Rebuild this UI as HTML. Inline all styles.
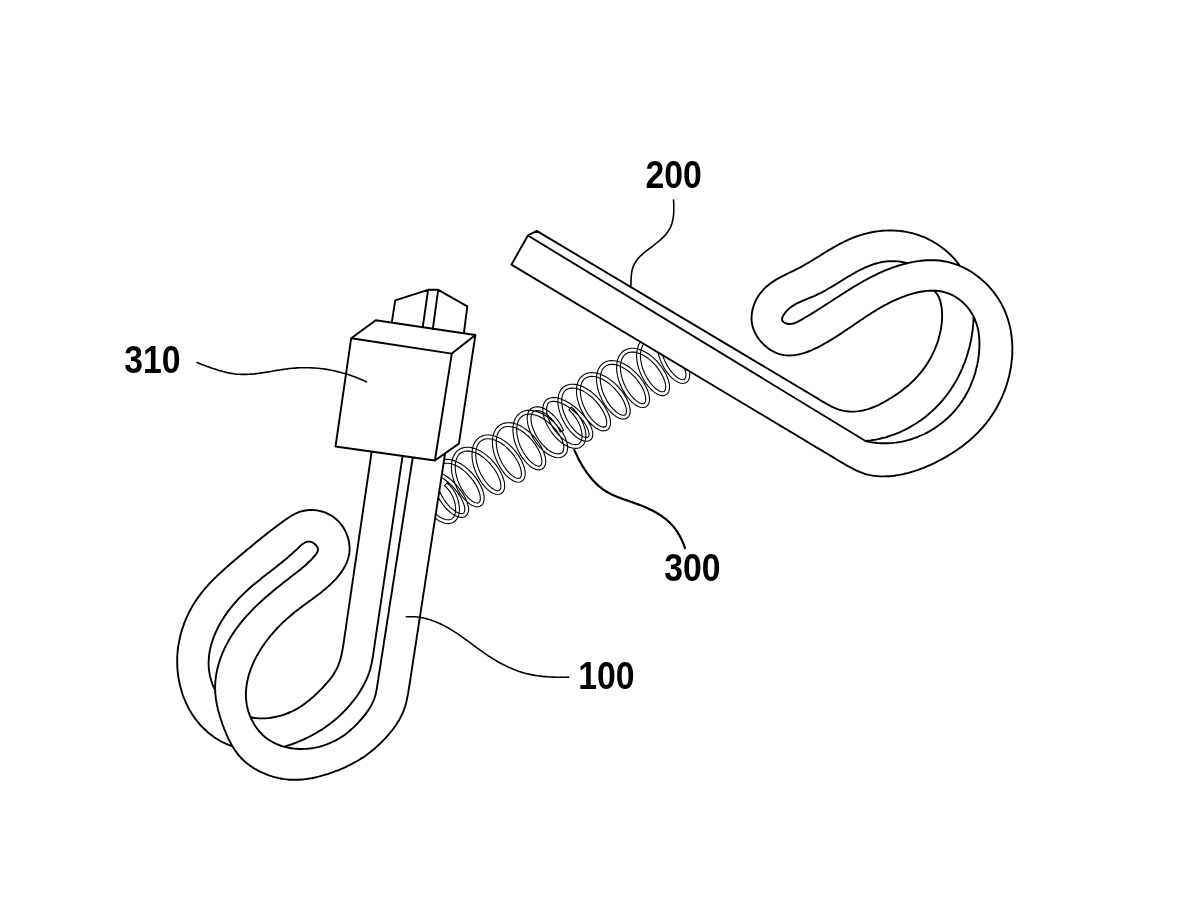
<!DOCTYPE html>
<html><head><meta charset="utf-8"><title>Figure</title><style>html,body{margin:0;padding:0;background:#fff;overflow:hidden;width:1184px;height:913px}svg{display:block}text{font-family:"Liberation Sans",sans-serif}</style></head><body><svg width="1184" height="913" viewBox="0 0 1184 913">
<rect width="1184" height="913" fill="#fff"/>
<g fill="none" stroke="#000" stroke-width="1.1" stroke-linejoin="round" stroke-linecap="round">
<path d="M444.5 485.6L446.6 487.6L448.4 489.7L450.1 491.9L451.5 494.2L452.7 496.6L453.7 499.1L454.5 501.5L455.1 503.9L455.4 506.3L455.6 508.5L455.6 510.5L455.4 512.4L455.0 514.1L454.5 515.6L453.8 516.8L453.0 517.8L452.0 518.6L451.0 519.2L449.9 519.6L448.6 519.8L447.2 519.7L445.6 519.5L443.9 518.9L442.2 518.2L440.3 517.2L438.4 515.9L436.6 514.4L434.7 512.7L432.9 510.9L431.1 508.8L429.4 506.6L427.9 504.3L426.4 501.9L425.1 499.5L424.0 497.0L423.0 494.5L422.2 492.0L421.6 489.6L421.3 487.2L421.1 485.0L421.1 482.9L421.3 481.0L421.6 479.3L422.2 477.8L422.9 476.6L423.7 475.5L424.6 474.7L425.7 474.1L426.9 473.7L428.3 473.4L429.8 473.4L431.6 473.6L433.5 474.0L435.5 474.6L437.7 475.5L439.8 476.6L442.1 477.9L444.3 479.3L446.5 481.0L448.7 482.8L450.8 484.7L452.8 486.8L454.7 488.9L456.5 491.1L458.2 493.4L459.6 495.6L461.0 497.8L462.1 500.0L463.0 502.1L463.8 504.1L464.3 506.0L464.7 507.7L464.8 509.2L464.7 510.5L464.5 511.6L464.1 512.3L463.6 512.9L463.1 513.2L462.4 513.5L461.4 513.6L460.2 513.4L458.8 513.1L457.2 512.4L455.6 511.5L453.9 510.3L452.1 508.9L450.3 507.3L448.5 505.4L446.8 503.4L445.1 501.2L443.6 498.8L442.1 496.4L440.8 493.8L439.6 491.2L438.6 488.6L437.7 486.0L437.0 483.4L436.6 480.8L436.3 478.4L436.2 476.1L436.4 473.9L436.7 471.9L437.2 470.1L437.9 468.5L438.7 467.1L439.7 466.0L440.8 465.0L442.1 464.2L443.5 463.7L445.0 463.3L446.7 463.2L448.6 463.3L450.5 463.6L452.6 464.2L454.7 465.0L456.9 466.0L459.1 467.3L461.3 468.7L463.5 470.4L465.6 472.2L467.6 474.2L469.6 476.3L471.4 478.4L473.1 480.7L474.7 482.9L476.1 485.2L477.3 487.5L478.3 489.7L479.1 491.8L479.7 493.9L480.1 495.7L480.3 497.4L480.3 498.9L480.2 500.2L479.9 501.2L479.5 501.9L479.1 502.4L478.6 502.7L478.0 502.9L477.1 503.0L476.1 502.8L474.9 502.5L473.6 501.9L472.1 501.0L470.6 499.9L469.0 498.5L467.5 496.9L465.9 495.0L464.3 493.0L462.9 490.8L461.5 488.5L460.2 486.0L459.0 483.5L457.9 480.9L457.0 478.2L456.3 475.5L455.8 472.9L455.4 470.2L455.2 467.7L455.3 465.3L455.5 463.0L455.9 460.9L456.5 458.9L457.2 457.2L458.2 455.7L459.2 454.3L460.5 453.3L461.8 452.4L463.3 451.7L465.0 451.3L466.7 451.1L468.6 451.1L470.6 451.4L472.7 451.9L474.9 452.6L477.1 453.6L479.4 454.8L481.6 456.2L483.8 457.8L485.9 459.6L488.0 461.6L490.0 463.6L491.8 465.8L493.5 468.0L495.1 470.3L496.5 472.6L497.7 474.8L498.7 477.1L499.6 479.2L500.2 481.3L500.6 483.2L500.8 484.9L500.9 486.4L500.7 487.7L500.5 488.7L500.1 489.5L499.6 490.0L499.2 490.4L498.5 490.6L497.8 490.7L496.8 490.6L495.6 490.2L494.3 489.6L492.9 488.8L491.3 487.7L489.8 486.3L488.2 484.8L486.6 483.0L485.1 481.0L483.6 478.8L482.2 476.5L480.8 474.0L479.6 471.5L478.6 468.9L477.7 466.2L476.9 463.5L476.3 460.9L476.0 458.3L475.8 455.7L475.8 453.3L475.9 451.0L476.3 448.8L476.9 446.9L477.6 445.1L478.5 443.5L479.6 442.2L480.8 441.1L482.1 440.2L483.6 439.5L485.2 439.0L487.0 438.8L488.9 438.8L490.9 439.0L493.0 439.5L495.1 440.2L497.3 441.2L499.6 442.3L501.8 443.7L504.0 445.3L506.2 447.1L508.2 449.0L510.2 451.1L512.1 453.2L513.8 455.4L515.4 457.7L516.8 460.0L518.1 462.3L519.1 464.5L520.0 466.6L520.6 468.7L521.1 470.6L521.3 472.4L521.4 473.9L521.3 475.3L521.0 476.3L520.6 477.1L520.2 477.7L519.7 478.0L519.1 478.3L518.4 478.4L517.4 478.3L516.3 478.0L515.0 477.4L513.5 476.6L512.0 475.6L510.5 474.2L508.9 472.7L507.3 470.9L505.8 468.9L504.3 466.8L502.8 464.5L501.5 462.1L500.3 459.5L499.2 456.9L498.3 454.3L497.5 451.6L496.9 448.9L496.5 446.3L496.3 443.7L496.2 441.3L496.4 439.0L496.8 436.8L497.3 434.8L498.0 433.0L498.9 431.4L500.0 430.1L501.1 428.9L502.5 428.0L503.9 427.3L505.5 426.8L507.3 426.5L509.1 426.5L511.1 426.7L513.2 427.1L515.3 427.8L517.6 428.7L519.8 429.9L522.0 431.2L524.2 432.8L526.4 434.6L528.5 436.5L530.5 438.5L532.3 440.6L534.1 442.8L535.7 445.1L537.1 447.4L538.4 449.7L539.5 451.9L540.4 454.1L541.0 456.1L541.5 458.1L541.8 459.9L541.9 461.4L541.8 462.8L541.5 463.9L541.2 464.7L540.8 465.3L540.3 465.7L539.7 466.0L539.0 466.1L538.0 466.0L536.9 465.7L535.6 465.2L534.2 464.4L532.7 463.4L531.2 462.1L529.6 460.6L528.0 458.9L526.5 456.9L525.0 454.8L523.5 452.5L522.2 450.1L520.9 447.6L519.8 445.0L518.9 442.3L518.1 439.6L517.5 437.0L517.0 434.3L516.8 431.8L516.7 429.3L516.9 427.0L517.2 424.8L517.7 422.7L518.4 420.9L519.3 419.3L520.3 417.9L521.5 416.7L522.8 415.8L524.2 415.0L525.8 414.5L527.5 414.2L529.4 414.1L531.5 414.3L533.6 414.7L535.8 415.3L538.1 416.1L540.5 417.2L542.8 418.5L545.1 420.0L547.4 421.6L549.6 423.5L551.7 425.4L553.7 427.5L555.6 429.6L557.3 431.8L558.8 434.0L560.2 436.3L561.3 438.5L562.3 440.6L563.0 442.7L563.5 444.6L563.8 446.4L563.8 448.0L563.7 449.4L563.4 450.6L562.9 451.6L562.3 452.3L561.5 453.0L560.6 453.4L559.5 453.7L558.2 453.9L556.7 453.8L555.1 453.4L553.4 452.8L551.6 452.0L549.7 450.9L547.8 449.5L546.0 448.0L544.1 446.2L542.3 444.3L540.6 442.2L539.0 440.0L537.5 437.8L536.1 435.4L534.9 433.0L533.9 430.6L532.9 428.3L532.2 426.0L531.6 423.8L531.2 421.7L531.0 419.7L531.0 417.9L531.1 416.3L531.4 414.9L531.8 413.8L532.3 412.8L533.0 412.0L533.7 411.5L534.6 411.0L535.7 410.7L536.9 410.6L538.2 410.7L539.7 410.9L541.3 411.4L542.9 412.2L544.6 413.1L546.4 414.3L548.2 415.7L549.9 417.3L551.7 419.0L553.3 420.9L554.9 423.0L556.4 425.1L557.8 427.3L559.1 429.6L560.2 432.0M447.2 482.9L449.3 485.0L451.4 487.3L453.2 489.8L454.9 492.4L456.2 495.1L457.3 497.8L458.1 500.5L458.8 503.2L459.2 505.8L459.4 508.3L459.4 510.7L459.2 513.0L458.7 515.2L457.9 517.2L456.9 518.9L455.7 520.5L454.2 521.7L452.6 522.7L450.7 523.3L448.8 523.6L446.8 523.5L444.7 523.2L442.6 522.5L440.5 521.6L438.3 520.4L436.2 519.0L434.1 517.3L432.1 515.5L430.1 513.4L428.2 511.2L426.4 508.8L424.7 506.4L423.1 503.8L421.7 501.1L420.5 498.4L419.4 495.7L418.6 493.0L417.9 490.3L417.5 487.7L417.3 485.2L417.3 482.7L417.5 480.4L418.0 478.3L418.7 476.3L419.7 474.5L420.9 472.9L422.4 471.6L424.1 470.6L425.9 470.0L427.9 469.6L430.0 469.6L432.2 469.8L434.5 470.3L436.8 471.0L439.2 472.0L441.6 473.2L444.1 474.6L446.5 476.2L448.9 478.0L451.2 479.9L453.4 482.0L455.6 484.2L457.6 486.5L459.5 488.8L461.3 491.2L462.9 493.6L464.3 496.0L465.5 498.3L466.6 500.6L467.4 502.9L468.0 505.1L468.4 507.2L468.6 509.2L468.5 511.1L468.0 512.8L467.3 514.4L466.2 515.7L464.7 516.7L463.1 517.2L461.3 517.4L459.4 517.2L457.5 516.6L455.6 515.8L453.6 514.8L451.6 513.4L449.6 511.8L447.6 510.0L445.7 508.0L443.8 505.8L442.1 503.4L440.4 500.9L438.8 498.2L437.4 495.5L436.1 492.7L435.0 489.9L434.1 487.0L433.3 484.2L432.8 481.4L432.5 478.7L432.4 476.0L432.6 473.5L433.0 471.1L433.6 468.9L434.5 466.8L435.6 464.9L437.0 463.3L438.6 461.9L440.4 460.8L442.3 460.0L444.4 459.6L446.7 459.4L449.0 459.5L451.4 459.9L453.8 460.6L456.2 461.5L458.7 462.7L461.1 464.0L463.5 465.6L465.9 467.4L468.2 469.4L470.3 471.5L472.4 473.7L474.4 476.1L476.2 478.4L477.9 480.9L479.4 483.4L480.7 485.8L481.8 488.2L482.7 490.6L483.4 492.9L483.9 495.1L484.1 497.2L484.1 499.1L483.9 500.9L483.4 502.6L482.7 504.0L481.6 505.3L480.2 506.1L478.7 506.7L477.0 506.8L475.3 506.6L473.6 506.0L471.8 505.2L470.0 504.1L468.2 502.8L466.4 501.2L464.7 499.4L462.9 497.4L461.3 495.3L459.7 492.9L458.2 490.4L456.8 487.7L455.5 485.0L454.4 482.2L453.4 479.3L452.6 476.4L452.0 473.5L451.6 470.6L451.4 467.8L451.5 465.1L451.7 462.5L452.2 460.0L452.9 457.6L453.9 455.4L455.1 453.5L456.5 451.7L458.2 450.2L460.0 449.0L462.1 448.1L464.2 447.5L466.5 447.3L468.9 447.3L471.3 447.6L473.8 448.2L476.3 449.1L478.8 450.2L481.3 451.5L483.7 453.1L486.1 454.9L488.4 456.8L490.7 458.9L492.8 461.1L494.8 463.4L496.6 465.8L498.3 468.2L499.8 470.7L501.1 473.1L502.2 475.6L503.1 478.0L503.9 480.3L504.4 482.5L504.6 484.6L504.7 486.6L504.5 488.4L504.0 490.1L503.3 491.6L502.2 492.8L500.9 493.8L499.4 494.3L497.7 494.5L496.0 494.3L494.3 493.8L492.5 493.0L490.8 492.0L489.0 490.7L487.2 489.1L485.4 487.4L483.7 485.4L482.0 483.2L480.4 480.9L478.9 478.4L477.5 475.8L476.2 473.0L475.0 470.2L474.0 467.3L473.2 464.5L472.6 461.6L472.2 458.7L472.0 455.9L472.0 453.1L472.2 450.5L472.6 448.0L473.3 445.6L474.2 443.4L475.4 441.4L476.8 439.6L478.4 438.1L480.3 436.9L482.3 435.9L484.4 435.3L486.7 435.0L489.1 435.0L491.5 435.3L494.0 435.8L496.5 436.7L499.0 437.7L501.5 439.1L503.9 440.6L506.3 442.3L508.6 444.2L510.9 446.3L513.0 448.5L515.0 450.8L516.9 453.2L518.6 455.6L520.1 458.1L521.4 460.5L522.6 463.0L523.5 465.4L524.3 467.7L524.8 469.9L525.1 472.0L525.2 474.0L525.0 475.9L524.6 477.6L523.9 479.1L522.9 480.4L521.6 481.4L520.1 482.0L518.4 482.2L516.7 482.0L515.0 481.6L513.3 480.8L511.5 479.8L509.7 478.6L507.9 477.0L506.1 475.3L504.4 473.4L502.7 471.2L501.1 468.9L499.6 466.4L498.1 463.8L496.8 461.1L495.7 458.3L494.7 455.4L493.8 452.5L493.2 449.6L492.7 446.8L492.5 443.9L492.4 441.2L492.6 438.5L493.1 436.0L493.7 433.6L494.6 431.4L495.7 429.3L497.1 427.5L498.7 426.0L500.5 424.7L502.5 423.7L504.7 423.1L506.9 422.7L509.3 422.7L511.7 422.9L514.2 423.4L516.7 424.2L519.2 425.3L521.7 426.6L524.1 428.1L526.5 429.8L528.9 431.7L531.1 433.7L533.2 435.9L535.3 438.2L537.1 440.6L538.9 443.0L540.4 445.5L541.8 447.9L543.0 450.4L543.9 452.8L544.7 455.1L545.3 457.3L545.6 459.5L545.7 461.5L545.6 463.3L545.2 465.0L544.5 466.6L543.5 467.9L542.3 469.0L540.8 469.6L539.1 469.9L537.5 469.8L535.7 469.4L534.0 468.6L532.2 467.7L530.4 466.4L528.6 464.9L526.9 463.2L525.1 461.3L523.4 459.2L521.8 456.9L520.2 454.4L518.8 451.8L517.5 449.1L516.3 446.3L515.3 443.5L514.4 440.6L513.7 437.7L513.3 434.8L513.0 432.0L512.9 429.2L513.1 426.6L513.5 424.0L514.1 421.6L515.0 419.3L516.1 417.3L517.4 415.5L519.0 413.9L520.8 412.6L522.8 411.5L524.9 410.8L527.1 410.4L529.5 410.3L531.9 410.5L534.5 411.0L537.0 411.7L539.6 412.6L542.2 413.8L544.7 415.2L547.3 416.8L549.7 418.6L552.1 420.6L554.4 422.7L556.5 424.9L558.5 427.2L560.4 429.6L562.0 432.0L563.5 434.4L564.8 436.8L565.8 439.2L566.6 441.6L567.2 443.9L567.5 446.0L567.6 448.1L567.4 450.1L566.9 451.9L566.1 453.6L565.0 455.0L563.6 456.1L562.0 457.0L560.2 457.5L558.2 457.7L556.2 457.5L554.1 457.1L551.9 456.3L549.8 455.3L547.6 454.0L545.5 452.5L543.4 450.8L541.4 448.9L539.5 446.8L537.6 444.6L535.9 442.2L534.2 439.8L532.8 437.2L531.5 434.7L530.3 432.1L529.4 429.5L528.6 427.0L527.9 424.6L527.5 422.2L527.2 420.0L527.2 417.8L527.3 415.8L527.7 413.9L528.3 412.2L529.2 410.6L530.3 409.3L531.7 408.2L533.2 407.5L535.0 407.0L536.8 406.8L538.7 406.9L540.6 407.3L542.6 407.9L544.6 408.8L546.6 409.9L548.6 411.2L550.6 412.8L552.6 414.5L554.4 416.4L556.3 418.5L558.0 420.7L559.6 423.0L561.1 425.4L562.4 427.9L563.6 430.4M444.5 485.6L447.2 482.9M560.2 432.0L563.6 430.4M568.9 410.0L570.6 411.6L572.3 413.4L573.9 415.3L575.4 417.3L576.8 419.5L578.1 421.7L579.2 424.1L580.2 426.4L580.9 428.8L581.5 431.1L581.9 433.3L582.1 435.4L582.0 437.3L581.8 439.0L581.4 440.5L580.7 441.8L580.0 442.8L579.1 443.6L578.1 444.2L576.9 444.5L575.6 444.6L574.0 444.5L572.3 444.2L570.4 443.5L568.5 442.6L566.5 441.5L564.5 440.1L562.4 438.5L560.4 436.7L558.5 434.8L556.7 432.7L554.9 430.4L553.3 428.2L551.9 425.8L550.5 423.4L549.4 421.1L548.5 418.7L547.7 416.5L547.1 414.3L546.8 412.2L546.6 410.3L546.6 408.6L546.8 407.0L547.1 405.7L547.6 404.5L548.1 403.6L548.8 402.8L549.6 402.2L550.5 401.8L551.6 401.5L552.8 401.3L554.3 401.4L555.9 401.6L557.7 402.0L559.6 402.6L561.7 403.4L563.8 404.3L565.9 405.5L568.1 406.8L570.3 408.3L572.4 410.0L574.6 411.7L576.6 413.6L578.6 415.5L580.4 417.6L582.1 419.6L583.7 421.7L585.0 423.8L586.2 425.8L587.2 427.8L588.0 429.6L588.6 431.3L588.9 432.8L589.0 434.2L589.0 435.2L588.8 436.0L588.5 436.6L588.1 437.0L587.6 437.2L586.9 437.4L585.9 437.4L584.7 437.2L583.4 436.8L581.9 436.1L580.3 435.2L578.6 434.0L576.9 432.6L575.2 431.0L573.5 429.2L571.8 427.2L570.2 425.0L568.7 422.7L567.3 420.3L566.0 417.8L564.9 415.2L563.9 412.7L563.0 410.1L562.4 407.5L562.0 405.1L561.7 402.7L561.7 400.4L561.8 398.3L562.2 396.3L562.7 394.6L563.4 393.0L564.3 391.7L565.3 390.5L566.4 389.6L567.7 388.9L569.2 388.4L570.8 388.1L572.5 388.0L574.5 388.2L576.5 388.5L578.6 389.2L580.8 390.0L583.1 391.1L585.3 392.4L587.6 393.9L589.8 395.6L592.0 397.4L594.0 399.3L596.0 401.4L597.9 403.6L599.6 405.8L601.2 408.1L602.5 410.3L603.7 412.5L604.8 414.7L605.6 416.7L606.2 418.7L606.6 420.5L606.7 422.1L606.7 423.5L606.6 424.6L606.3 425.5L605.9 426.2L605.5 426.6L604.9 426.9L604.2 427.1L603.3 427.1L602.2 426.9L600.9 426.5L599.5 425.8L597.9 424.8L596.3 423.7L594.7 422.3L593.0 420.6L591.4 418.8L589.8 416.7L588.3 414.6L586.8 412.2L585.4 409.8L584.2 407.2L583.1 404.7L582.2 402.0L581.4 399.4L580.9 396.8L580.5 394.3L580.3 391.8L580.3 389.5L580.5 387.3L580.9 385.3L581.5 383.5L582.2 381.8L583.1 380.4L584.2 379.2L585.4 378.2L586.8 377.5L588.3 376.9L589.9 376.5L591.7 376.4L593.7 376.5L595.7 376.8L597.9 377.4L600.1 378.2L602.4 379.3L604.7 380.5L606.9 382.0L609.2 383.6L611.3 385.4L613.4 387.4L615.4 389.5L617.3 391.6L619.1 393.8L620.6 396.1L622.0 398.3L623.3 400.5L624.3 402.7L625.1 404.8L625.8 406.7L626.2 408.5L626.4 410.2L626.4 411.6L626.2 412.8L626.0 413.7L625.6 414.3L625.2 414.8L624.6 415.1L624.0 415.2L623.1 415.3L622.0 415.1L620.8 414.7L619.4 414.0L617.9 413.1L616.3 411.9L614.7 410.5L613.0 408.9L611.4 407.1L609.8 405.1L608.3 402.9L606.8 400.5L605.5 398.1L604.2 395.6L603.2 393.0L602.2 390.3L601.5 387.7L600.9 385.1L600.5 382.5L600.3 380.1L600.3 377.7L600.5 375.5L600.9 373.5L601.5 371.6L602.2 369.9L603.1 368.5L604.2 367.3L605.4 366.3L606.7 365.5L608.2 364.9L609.8 364.5L611.6 364.4L613.5 364.4L615.6 364.8L617.7 365.3L619.9 366.1L622.1 367.2L624.4 368.4L626.6 369.9L628.8 371.5L630.9 373.4L633.0 375.3L635.0 377.4L636.8 379.5L638.5 381.8L640.1 384.0L641.5 386.3L642.7 388.6L643.7 390.8L644.5 392.9L645.1 394.9L645.5 396.7L645.7 398.4L645.7 399.8L645.6 401.1L645.3 402.0L644.9 402.7L644.5 403.2L644.0 403.5L643.3 403.7L642.5 403.7L641.4 403.6L640.2 403.2L638.9 402.5L637.4 401.6L635.9 400.4L634.3 399.0L632.7 397.4L631.1 395.6L629.5 393.5L628.1 391.3L626.6 389.0L625.3 386.5L624.2 384.0L623.1 381.3L622.2 378.7L621.5 376.0L620.9 373.4L620.6 370.8L620.4 368.3L620.4 365.9L620.7 363.6L621.1 361.5L621.7 359.6L622.5 357.9L623.4 356.4L624.5 355.2L625.7 354.1L627.0 353.3L628.5 352.6L630.2 352.2L632.0 352.0L633.9 352.1L635.9 352.4L638.0 353.0L640.2 353.7L642.4 354.8L644.6 356.0L646.8 357.5L649.0 359.1L651.1 360.9L653.2 362.9L655.1 364.9L657.0 367.1L658.6 369.4L660.2 371.6L661.5 373.9L662.7 376.2L663.7 378.4L664.5 380.6L665.1 382.6L665.5 384.5L665.7 386.2L665.7 387.7L665.5 389.0L665.2 390.0L664.8 390.7L664.4 391.2L663.9 391.5L663.2 391.7L662.4 391.8L661.4 391.7L660.2 391.3L658.8 390.7L657.4 389.8L655.9 388.7L654.3 387.3L652.7 385.7L651.1 383.8L649.6 381.8L648.1 379.6L646.7 377.3L645.4 374.8L644.2 372.3L643.1 369.7L642.2 367.0L641.5 364.3L641.0 361.7L640.6 359.1L640.4 356.5L640.4 354.1L640.7 351.8L641.1 349.7L641.7 347.8L642.4 346.1L643.3 344.5L644.4 343.2L645.6 342.1L647.0 341.3L648.5 340.6L650.1 340.2L651.9 340.0L653.8 340.0L655.8 340.3L657.9 340.8L660.1 341.6L662.3 342.6L664.5 343.8L666.7 345.2L668.9 346.9L671.1 348.7L673.1 350.6L675.1 352.7L676.9 354.8L678.6 357.1L680.2 359.3L681.6 361.6L682.8 363.9L683.8 366.1L684.6 368.3L685.2 370.3L685.7 372.2L685.9 373.9L685.9 375.5L685.8 376.7L685.5 377.8L685.1 378.5L684.6 379.0L684.1 379.4L683.5 379.6L682.7 379.7L681.7 379.6L680.5 379.2L679.2 378.6L677.8 377.8L676.3 376.6L674.7 375.3L673.1 373.7L671.5 371.9L670.0 369.9L668.5 367.7L667.1 365.4L665.8 362.9L664.6 360.4L663.5 357.7L662.6 355.1L661.9 352.4L661.3 349.7L660.9 347.1L660.7 344.6L660.7 342.2L660.9 339.9L661.3 337.7L661.9 335.8L662.7 334.0L663.6 332.5L664.7 331.1L665.9 330.0L667.2 329.1L668.7 328.5L670.3 328.0L672.1 327.8L674.0 327.8L676.0 328.0L678.1 328.5L680.3 329.3L682.5 330.2L684.7 331.4L686.9 332.8L689.1 334.4L691.3 336.2L693.4 338.1L695.3 340.2L697.2 342.4L698.9 344.6L700.5 346.8L701.9 349.1L703.1 351.4L704.2 353.6L705.0 355.8L705.7 357.8L706.1 359.7L706.4 361.5L706.4 363.0L706.3 364.3L706.0 365.4L705.6 366.1L705.2 366.7L704.7 367.0L704.1 367.3L703.4 367.3L702.4 367.2L701.2 366.9L699.9 366.3L698.5 365.5L697.0 364.4L695.4 363.1L693.9 361.5L692.3 359.7L690.7 357.7L689.2 355.6L687.8 353.2L686.5 350.8L685.3 348.2L684.2 345.6L683.3 343.0L682.6 340.3L682.0 337.6L681.6 334.9M571.5 407.2L573.3 408.9L575.1 410.8L576.8 412.9L578.5 415.2L580.0 417.5L581.4 420.0L582.7 422.5L583.7 425.1L584.6 427.7L585.3 430.3L585.7 432.8L585.9 435.3L585.8 437.6L585.5 439.8L584.9 441.9L584.0 443.8L582.8 445.4L581.3 446.7L579.6 447.7L577.7 448.2L575.6 448.4L573.5 448.3L571.3 447.8L569.0 447.1L566.8 446.0L564.5 444.7L562.2 443.2L560.0 441.4L557.8 439.5L555.7 437.4L553.7 435.1L551.9 432.7L550.2 430.2L548.6 427.7L547.2 425.2L545.9 422.6L544.9 420.1L544.1 417.6L543.4 415.1L543.0 412.8L542.8 410.5L542.8 408.4L543.0 406.4L543.5 404.5L544.2 402.8L545.1 401.3L546.3 400.0L547.7 399.0L549.2 398.2L550.9 397.7L552.7 397.5L554.6 397.6L556.6 397.8L558.7 398.3L560.9 399.0L563.2 399.9L565.5 401.0L567.8 402.2L570.2 403.6L572.5 405.2L574.8 407.0L577.1 408.9L579.2 410.8L581.3 412.9L583.3 415.1L585.1 417.3L586.8 419.5L588.3 421.8L589.6 424.0L590.7 426.1L591.6 428.3L592.2 430.3L592.7 432.2L592.8 434.1L592.7 435.8L592.3 437.4L591.5 438.9L590.4 440.0L588.9 440.8L587.3 441.2L585.6 441.2L583.8 440.9L582.0 440.3L580.1 439.5L578.2 438.4L576.3 437.0L574.4 435.5L572.5 433.7L570.6 431.7L568.8 429.5L567.1 427.2L565.5 424.7L564.0 422.1L562.6 419.4L561.3 416.7L560.3 413.9L559.4 411.1L558.7 408.3L558.2 405.6L557.9 402.9L557.9 400.3L558.1 397.8L558.5 395.4L559.1 393.2L560.1 391.2L561.2 389.4L562.6 387.8L564.3 386.5L566.2 385.4L568.2 384.7L570.3 384.3L572.6 384.2L575.0 384.4L577.4 384.8L579.8 385.6L582.3 386.5L584.8 387.7L587.3 389.2L589.8 390.8L592.2 392.6L594.5 394.6L596.7 396.7L598.8 398.9L600.8 401.2L602.7 403.6L604.3 406.0L605.8 408.4L607.1 410.8L608.2 413.2L609.2 415.5L609.8 417.7L610.3 419.9L610.5 421.9L610.5 423.8L610.3 425.5L609.7 427.1L608.9 428.5L607.7 429.7L606.3 430.4L604.7 430.8L603.0 430.9L601.2 430.6L599.5 430.0L597.7 429.1L595.8 428.0L594.0 426.6L592.1 425.0L590.3 423.2L588.5 421.2L586.7 419.0L585.1 416.7L583.5 414.1L582.1 411.5L580.7 408.8L579.6 406.0L578.6 403.2L577.8 400.4L577.1 397.5L576.7 394.7L576.5 392.0L576.5 389.3L576.7 386.8L577.2 384.4L577.9 382.1L578.9 380.0L580.1 378.1L581.6 376.5L583.3 375.1L585.1 374.0L587.2 373.2L589.4 372.8L591.7 372.6L594.1 372.7L596.5 373.1L599.0 373.8L601.6 374.7L604.1 375.9L606.6 377.3L609.1 378.9L611.5 380.6L613.9 382.6L616.1 384.7L618.2 386.9L620.2 389.2L622.1 391.5L623.8 394.0L625.3 396.4L626.7 398.8L627.8 401.2L628.7 403.5L629.4 405.7L629.9 407.9L630.2 409.9L630.2 411.8L630.0 413.6L629.4 415.2L628.6 416.6L627.5 417.8L626.1 418.6L624.5 419.0L622.8 419.1L621.1 418.8L619.3 418.2L617.5 417.4L615.7 416.3L613.9 414.9L612.1 413.3L610.2 411.5L608.5 409.5L606.7 407.3L605.1 405.0L603.5 402.5L602.1 399.8L600.8 397.1L599.6 394.3L598.6 391.5L597.8 388.6L597.2 385.8L596.7 383.0L596.5 380.2L596.5 377.5L596.7 375.0L597.2 372.5L597.9 370.3L598.9 368.2L600.1 366.3L601.5 364.6L603.2 363.2L605.0 362.1L607.1 361.2L609.3 360.7L611.6 360.6L613.9 360.7L616.4 361.0L618.8 361.7L621.3 362.6L623.8 363.8L626.3 365.2L628.8 366.8L631.2 368.6L633.5 370.5L635.7 372.6L637.8 374.8L639.8 377.2L641.6 379.5L643.3 382.0L644.8 384.4L646.1 386.9L647.2 389.3L648.1 391.6L648.8 393.9L649.2 396.1L649.5 398.1L649.5 400.1L649.3 401.8L648.8 403.5L648.0 404.9L646.9 406.1L645.5 407.0L643.9 407.4L642.2 407.5L640.5 407.2L638.8 406.7L637.0 405.8L635.3 404.7L633.5 403.4L631.7 401.8L629.9 400.0L628.1 398.0L626.5 395.8L624.9 393.4L623.3 390.9L621.9 388.2L620.7 385.5L619.5 382.7L618.6 379.8L617.8 376.9L617.2 374.0L616.8 371.2L616.6 368.4L616.7 365.7L616.9 363.1L617.4 360.6L618.1 358.3L619.1 356.1L620.3 354.2L621.8 352.5L623.4 351.0L625.3 349.9L627.4 349.0L629.5 348.5L631.8 348.2L634.2 348.3L636.7 348.7L639.1 349.3L641.6 350.2L644.1 351.4L646.6 352.8L649.0 354.3L651.4 356.1L653.7 358.1L655.9 360.2L658.0 362.4L659.9 364.8L661.7 367.2L663.4 369.6L664.9 372.1L666.2 374.6L667.2 377.0L668.1 379.4L668.8 381.7L669.3 383.9L669.5 386.0L669.5 387.9L669.3 389.7L668.8 391.4L668.0 392.9L666.9 394.1L665.5 395.0L663.9 395.5L662.3 395.6L660.6 395.4L658.8 394.8L657.1 394.0L655.3 392.9L653.5 391.6L651.7 390.0L649.9 388.2L648.2 386.2L646.5 384.1L644.9 381.7L643.4 379.2L642.0 376.5L640.7 373.8L639.6 371.0L638.6 368.1L637.8 365.2L637.2 362.3L636.8 359.5L636.6 356.7L636.6 353.9L636.9 351.3L637.4 348.8L638.1 346.5L639.0 344.3L640.2 342.3L641.7 340.6L643.3 339.1L645.2 337.9L647.2 337.0L649.4 336.5L651.7 336.2L654.1 336.2L656.5 336.6L659.0 337.2L661.5 338.1L664.0 339.2L666.5 340.5L668.9 342.1L671.3 343.9L673.6 345.8L675.8 347.9L677.9 350.1L679.9 352.4L681.7 354.8L683.4 357.3L684.9 359.8L686.2 362.2L687.3 364.7L688.2 367.0L688.9 369.3L689.4 371.6L689.7 373.7L689.7 375.6L689.5 377.5L689.0 379.1L688.3 380.6L687.2 381.9L685.8 382.8L684.3 383.3L682.6 383.5L680.9 383.3L679.2 382.8L677.5 382.0L675.7 380.9L673.9 379.6L672.1 378.1L670.3 376.3L668.6 374.3L666.9 372.1L665.3 369.8L663.8 367.3L662.4 364.6L661.1 361.9L660.0 359.1L659.0 356.2L658.2 353.3L657.6 350.4L657.1 347.5L656.9 344.7L656.9 342.0L657.2 339.4L657.6 336.8L658.3 334.5L659.3 332.3L660.5 330.3L661.9 328.5L663.5 327.0L665.4 325.8L667.4 324.9L669.6 324.3L671.9 324.0L674.2 324.0L676.7 324.3L679.1 324.9L681.6 325.7L684.1 326.8L686.6 328.2L689.1 329.7L691.5 331.4L693.8 333.4L696.0 335.4L698.1 337.6L700.1 339.9L702.0 342.3L703.7 344.8L705.2 347.2L706.5 349.7L707.7 352.1L708.6 354.5L709.3 356.8L709.9 359.0L710.1 361.2L710.2 363.1L710.0 365.0L709.6 366.7L708.9 368.2L707.8 369.4L706.5 370.4L705.0 371.0L703.4 371.1L701.7 371.0L699.9 370.5L698.2 369.7L696.4 368.7L694.6 367.4L692.9 365.9L691.1 364.1L689.4 362.1L687.7 360.0L686.1 357.6L684.5 355.1L683.1 352.5L681.8 349.8L680.7 347.0L679.7 344.1L678.9 341.2L678.3 338.3L677.8 335.5M568.9 410.0L571.5 407.2M681.6 334.9L677.8 335.5"/>
</g>
<g fill="#fff" stroke="none"><polygon points="511.4,264.6 527.9,235.5 536.7,230.9 760,364.1 740,401.8"/><polygon points="445,454 431.0,545 395,545 395,454"/><polygon points="351.2,338.2 375.7,320.2 475.4,335 458.9,443.6 434.9,460.5 335.5,446.5"/></g>
<g fill="none" stroke="#000" stroke-linejoin="round" stroke-linecap="round">
<path stroke-width="1.9" d="M351.2 338.2L375.7 320.2L475.4 335.0L451.8 353.6ZM351.2 338.2L335.5 446.5L434.9 460.5L451.8 353.6M434.9 460.5L458.9 443.6L475.4 335.0M391.8 322.6L395.2 300.4L428.1 289.8L438.2 289.8L467.3 306.3L463.9 333.2M428.1 289.8L422.7 327.4M438.2 289.8L432.8 329.1M371.5 452.7L355.8 560.0M355.8 560.0L355.4 562.5L355.0 565.0L354.7 567.5L354.3 570.0L353.9 572.5L353.6 575.1L353.2 577.6L352.8 580.1L352.5 582.6L352.1 585.1L351.7 587.6L351.4 590.1L351.0 592.6L350.6 595.1L350.3 597.6L349.9 600.2L349.5 602.7L349.2 605.2L348.8 607.7L348.4 610.2L348.1 612.7L347.7 615.2L347.3 617.7L347.0 620.2L346.6 622.7L346.2 625.3L345.9 627.8L345.5 630.3L345.1 632.8L344.7 635.3L344.4 637.8L344.0 640.3L343.6 642.8L343.3 645.3L342.8 647.8L342.4 650.3L341.9 652.8L341.4 655.2L340.8 657.7L340.1 660.1L339.3 662.5L338.5 664.8L337.5 667.1L336.4 669.4L335.2 671.6L333.9 673.8L332.4 676.0L330.9 678.1L329.3 680.1L327.6 682.1L325.9 684.0L324.2 685.9L322.5 687.8L320.7 689.6L318.9 691.4L317.1 693.2L315.3 694.9L313.4 696.7L311.5 698.3L309.6 700.0L307.6 701.5L305.6 703.1L303.6 704.5L301.6 706.0L299.4 707.3L297.3 708.6L295.1 709.8L292.8 711.0L290.6 712.0L288.2 713.0L285.8 714.0L283.4 714.8L281.0 715.6L278.5 716.2L276.0 716.8L273.5 717.3L271.0 717.8L268.5 718.1L265.9 718.3L263.4 718.4L260.8 718.4L258.3 718.3L255.8 718.1L253.3 717.7L250.8 717.2M402.4 457.1L387.2 560.0M387.2 560.0L386.8 562.5L386.4 565.0L386.1 567.5L385.7 570.0L385.3 572.5L384.9 575.0L384.6 577.5L384.2 580.1L383.8 582.6L383.5 585.1L383.1 587.6L382.7 590.1L382.3 592.6L382.0 595.1L381.6 597.6L381.2 600.1L380.9 602.6L380.5 605.1L380.1 607.6L379.7 610.1L379.4 612.6L379.0 615.2L378.6 617.7L378.3 620.2L377.9 622.7L377.5 625.2L377.1 627.7L376.8 630.2L376.4 632.7L376.0 635.2L375.7 637.7L375.3 640.2L374.9 642.7L374.6 645.2L374.2 647.7L373.8 650.3L373.4 652.8L373.1 655.3L372.7 657.8L372.2 660.3L371.8 662.7L371.2 665.2L370.6 667.7L370.0 670.1L369.2 672.5L368.3 674.9L367.4 677.2L366.4 679.6L365.3 681.9L364.2 684.1L363.0 686.4L361.7 688.6L360.4 690.8L359.0 692.9L357.6 695.1L356.1 697.2L354.6 699.2L353.0 701.2L351.4 703.2L349.8 705.2L348.1 707.1L346.4 709.0L344.6 710.8L342.8 712.7L341.0 714.4L339.1 716.2L337.2 717.9L335.3 719.5L333.3 721.2L331.3 722.7L329.3 724.3L327.3 725.8L325.2 727.3L323.1 728.7L320.9 730.1L318.8 731.4L316.6 732.7L314.4 734.0L312.2 735.2L310.0 736.4L307.7 737.5L305.4 738.6L303.2 739.7L300.8 740.7L298.5 741.6L296.2 742.6L293.8 743.5L291.4 744.4L289.0 745.2L286.6 746.0L284.2 746.8M412.6 458.3L396.8 560.0M396.8 560.0L396.4 562.5L396.0 565.0L395.6 567.4L395.2 569.9L394.9 572.4L394.5 574.9L394.1 577.4L393.7 579.9L393.3 582.4L392.9 584.8L392.5 587.3L392.2 589.8L391.8 592.3L391.4 594.8L391.0 597.3L390.6 599.7L390.2 602.2L389.8 604.7L389.4 607.2L389.1 609.7L388.7 612.1L388.3 614.6L387.9 617.1L387.5 619.6L387.1 622.1L386.7 624.6L386.4 627.0L386.0 629.5L385.6 632.0L385.2 634.5L384.8 637.0L384.4 639.5L384.0 641.9L383.7 644.4L383.3 646.9L382.9 649.4L382.5 651.9L382.1 654.4L381.7 656.8L381.3 659.3L381.0 661.8L380.6 664.3L380.2 666.8L379.8 669.3L379.4 671.8L379.0 674.2L378.6 676.7L378.3 679.2L377.9 681.7L377.5 684.2L377.1 686.6L376.7 689.1L376.2 691.6L375.7 694.0L375.0 696.4L374.3 698.8L373.3 701.1L372.3 703.4L371.1 705.6L369.9 707.8L368.5 709.9L367.0 712.0L365.5 714.1L363.9 716.1L362.3 718.1L360.6 720.0L358.9 721.9L357.2 723.8L355.4 725.6L353.6 727.4L351.7 729.1L349.8 730.7L347.9 732.3L345.9 733.9L343.9 735.4L341.8 736.8L339.7 738.1L337.5 739.4L335.3 740.6L333.1 741.7L330.8 742.7L328.5 743.7L326.2 744.6L323.8 745.4L321.5 746.1L319.0 746.8L316.6 747.4L314.1 747.9L311.6 748.3L309.1 748.6L306.5 748.8L304.0 748.9L301.5 749.0L298.9 749.0L296.4 748.8L293.8 748.6L291.3 748.3L288.8 747.8L286.4 747.3L283.9 746.7L281.5 746.0L279.2 745.1L276.9 744.2L274.6 743.2L272.4 742.0L270.3 740.8L268.2 739.4L266.2 737.9L264.3 736.4L262.4 734.7L260.7 732.9L259.0 731.0L257.4 729.0L255.9 726.9L254.5 724.8L253.2 722.5L252.0 720.3L250.9 718.0L249.9 715.6L249.0 713.2L248.2 710.8L247.6 708.4L247.0 705.9L246.6 703.4L246.3 701.0L246.0 698.5L245.9 696.1L245.9 693.6L246.0 691.1L246.2 688.7L246.5 686.2L246.8 683.8L247.3 681.3L247.8 678.9L248.4 676.5L249.1 674.0L249.9 671.6L250.7 669.3L251.6 666.9L252.6 664.6L253.7 662.2L254.8 659.9L255.9 657.7L257.1 655.4L258.4 653.2L259.7 651.0L261.0 648.8L262.4 646.7L263.9 644.6L265.3 642.5L266.8 640.5L268.4 638.5L269.9 636.5L271.5 634.6L273.2 632.7L274.8 630.8L276.5 629.0L278.2 627.2L280.0 625.4L281.7 623.6L283.5 621.9L285.4 620.2L287.2 618.5L289.1 616.9L291.0 615.3L292.9 613.7L294.8 612.1L296.8 610.5L298.8 609.0L300.8 607.5L302.8 606.0L304.8 604.5L306.9 603.0L308.9 601.5L311.0 600.0L313.0 598.5L315.0 597.0L317.1 595.5L319.1 594.0L321.1 592.4L323.0 590.8L325.0 589.2L326.9 587.6L328.8 585.9L330.7 584.2L332.5 582.4L334.2 580.6L336.0 578.8L337.6 576.9L339.2 574.9L340.8 572.9L342.2 570.8L343.5 568.7L344.8 566.6L345.9 564.4L346.9 562.1L347.7 559.8L348.4 557.5L349.0 555.1L349.4 552.7L349.6 550.3L349.6 547.8L349.4 545.3L349.1 542.8L348.6 540.3L348.0 537.8L347.1 535.3L346.2 532.9L345.1 530.6L343.8 528.3L342.4 526.1L340.8 524.0L339.2 522.1L337.3 520.2L335.4 518.5L333.4 516.9L331.2 515.5L329.0 514.3L326.6 513.2L324.2 512.2L321.8 511.5L319.3 510.9L316.8 510.4L314.2 510.1L311.7 510.0L309.2 510.0L306.7 510.3L304.2 510.7L301.8 511.2L299.4 511.9L297.1 512.8L294.9 513.9L292.7 515.1L290.6 516.3L288.5 517.7L286.4 519.1L284.3 520.6L282.3 522.0L280.3 523.5L278.2 525.0L276.2 526.5L274.2 528.0L272.2 529.6L270.2 531.1L268.2 532.6L266.2 534.2L264.3 535.8L262.3 537.3L260.3 538.9L258.4 540.5L256.4 542.1L254.5 543.7L252.5 545.3L250.6 546.9L248.6 548.5L246.7 550.1L244.8 551.7L242.8 553.3L240.9 555.0L239.0 556.6L237.1 558.2L235.2 559.8L233.2 561.5L231.3 563.1L229.4 564.8L227.5 566.4L225.6 568.1L223.8 569.8L221.9 571.4L220.1 573.1L218.2 574.8L216.4 576.6L214.6 578.3L212.9 580.1L211.1 581.9L209.4 583.7L207.7 585.5L206.1 587.4L204.4 589.2L202.9 591.2L201.3 593.1L199.8 595.1L198.3 597.1L196.9 599.1L195.5 601.2L194.1 603.3L192.8 605.4L191.6 607.6L190.4 609.8L189.2 612.0L188.1 614.3L187.0 616.6L186.0 618.9L185.0 621.3L184.1 623.6L183.3 626.0L182.5 628.4L181.7 630.8L181.0 633.3L180.4 635.7L179.8 638.2L179.3 640.7L178.8 643.2L178.4 645.7L178.0 648.2L177.7 650.7L177.5 653.2L177.3 655.8L177.2 658.3L177.2 660.8L177.2 663.4L177.3 665.9L177.4 668.4L177.6 671.0L177.9 673.5L178.2 676.0L178.6 678.5L179.1 681.0L179.6 683.5L180.1 685.9L180.8 688.3L181.5 690.8L182.2 693.2L183.0 695.5L183.9 697.9L184.9 700.2L185.8 702.5L186.9 704.7L188.0 707.0L189.2 709.2L190.4 711.3L191.7 713.4L193.0 715.5L194.4 717.6L195.9 719.6L197.4 721.5L199.0 723.4L200.6 725.3L202.3 727.1L204.1 728.8L205.9 730.5L207.7 732.2L209.6 733.8L211.6 735.3L213.6 736.8L215.7 738.2L217.8 739.5L220.0 740.8L222.3 742.0L224.6 743.1L226.9 744.2L229.3 745.2L231.8 746.1M445.0 454.0L428.7 560.0M428.7 560.0L428.3 562.5L427.9 565.0L427.5 567.4L427.1 569.9L426.8 572.4L426.4 574.9L426.0 577.4L425.6 579.8L425.2 582.3L424.9 584.8L424.5 587.3L424.1 589.8L423.7 592.2L423.3 594.7L422.9 597.2L422.6 599.7L422.2 602.2L421.8 604.6L421.4 607.1L421.0 609.6L420.7 612.1L420.3 614.6L419.9 617.0L419.5 619.5L419.1 622.0L418.7 624.5L418.4 627.0L418.0 629.4L417.6 631.9L417.2 634.4L416.8 636.9L416.5 639.4L416.1 641.8L415.7 644.3L415.3 646.8L414.9 649.3L414.5 651.8L414.2 654.2L413.8 656.7L413.4 659.2L413.0 661.7L412.6 664.2L412.3 666.6L411.9 669.1L411.5 671.6L411.1 674.1L410.7 676.6L410.4 679.0L410.0 681.5L409.6 684.0L409.2 686.5L408.8 688.9L408.4 691.4L408.0 693.9L407.5 696.4L407.0 698.8L406.5 701.2L405.9 703.7L405.2 706.1L404.4 708.4L403.6 710.8L402.6 713.1L401.5 715.4L400.4 717.7L399.2 719.9L397.8 722.1L396.5 724.3L395.0 726.4L393.5 728.5L392.0 730.5L390.3 732.5L388.7 734.5L387.0 736.4L385.3 738.3L383.5 740.2L381.7 742.0L379.9 743.7L378.1 745.4L376.3 747.1L374.5 748.7L372.6 750.3L370.7 751.8L368.7 753.3L366.8 754.8L364.8 756.2L362.7 757.6L360.6 758.9L358.5 760.2L356.3 761.5L354.1 762.7L351.9 763.9L349.6 765.1L347.3 766.2L345.0 767.3L342.7 768.3L340.3 769.3L338.0 770.3L335.6 771.2L333.2 772.1L330.8 772.9L328.4 773.8L326.0 774.5L323.6 775.2L321.1 775.9L318.7 776.6L316.3 777.2L313.9 777.7L311.5 778.2L309.0 778.6L306.6 779.0L304.2 779.3L301.8 779.5L299.3 779.7L296.9 779.8L294.4 779.8L291.9 779.8L289.4 779.7L286.9 779.4L284.4 779.1L281.9 778.7L279.4 778.3L276.9 777.7L274.5 777.1L272.0 776.4L269.5 775.6L267.1 774.7L264.7 773.7L262.3 772.7L260.0 771.6L257.7 770.4L255.5 769.2L253.3 767.9L251.2 766.5L249.2 765.0L247.2 763.5L245.2 761.9L243.4 760.2L241.6 758.5L240.0 756.7L238.4 754.8L236.9 752.9L235.4 750.9L234.1 748.9L232.8 746.8L231.5 744.7L230.4 742.5L229.2 740.3L228.1 738.1L227.1 735.8L226.1 733.5L225.2 731.1L224.2 728.8L223.3 726.4L222.4 724.0L221.6 721.6L220.8 719.2L220.0 716.7L219.3 714.3L218.6 711.8L217.9 709.4L217.4 706.9L216.8 704.4L216.4 701.9L216.0 699.4L215.7 696.9L215.4 694.4L215.2 691.9L215.1 689.4L215.1 686.9L215.2 684.4L215.3 681.9L215.6 679.5L215.9 677.0L216.2 674.5L216.7 672.1L217.2 669.6L217.8 667.2L218.4 664.8L219.1 662.4L219.9 660.0L220.7 657.6L221.6 655.3L222.6 652.9L223.6 650.6L224.6 648.3L225.7 646.1L226.9 643.9L228.1 641.6L229.3 639.5L230.6 637.3L231.9 635.2L233.3 633.1L234.7 631.0L236.1 629.0L237.6 627.0L239.1 625.0L240.6 623.1L242.2 621.1L243.8 619.2L245.4 617.3L247.1 615.4L248.8 613.6L250.5 611.8L252.3 610.0L254.0 608.2L255.8 606.4L257.6 604.7L259.5 602.9L261.3 601.2L263.2 599.5L265.1 597.8L267.0 596.2L268.9 594.5L270.8 592.9L272.8 591.3L274.7 589.7L276.7 588.1L278.7 586.5L280.6 584.9L282.6 583.3L284.6 581.8L286.6 580.2L288.6 578.7L290.6 577.1L292.6 575.6L294.6 574.1L296.6 572.5L298.5 571.0L300.5 569.4L302.4 567.8L304.3 566.2L306.2 564.5L308.0 562.8L309.8 561.1L311.6 559.3L313.3 557.4L315.0 555.5L316.5 553.5L317.6 551.5L318.0 549.4L317.4 547.2L316.0 545.2L314.2 543.5L312.0 542.2L309.7 541.6L307.5 541.6L305.4 542.3L303.4 543.5L301.4 545.0L299.4 546.8L297.5 548.7L295.5 550.5L293.6 552.3L291.6 554.1L289.6 555.8L287.7 557.5L285.7 559.2L283.7 560.8L281.7 562.4L279.8 564.0L277.8 565.6L275.8 567.2L273.8 568.7L271.9 570.2L269.9 571.8L267.9 573.3L266.0 574.8L264.0 576.3L262.1 577.8L260.2 579.4L258.3 580.9L256.4 582.4L254.5 584.0L252.6 585.6L250.7 587.2L248.9 588.8L247.1 590.5L245.3 592.1L243.5 593.9L241.7 595.6L239.9 597.4L238.2 599.2L236.5 601.1L234.8 603.0L233.2 604.9L231.6 606.9L230.0 608.9L228.4 610.9L226.9 613.0L225.4 615.1L224.0 617.2L222.6 619.4L221.3 621.6L220.0 623.8L218.8 626.0L217.6 628.3L216.5 630.6L215.5 632.9L214.5 635.2L213.6 637.5L212.7 639.9L212.0 642.2L211.3 644.6L210.6 647.0L210.1 649.4L209.6 651.8L209.2 654.2L209.0 656.7L208.8 659.1L208.6 661.5L208.6 664.0L208.7 666.4L208.9 668.9L209.2 671.3L209.6 673.8L210.0 676.2L210.7 678.6L211.4 681.1L212.2 683.5L213.1 685.9L214.2 688.3L215.4 690.7M511.4 264.6L527.9 235.5L536.7 230.9M536.7 230.9L760.0 364.1M760.0 364.1L762.2 365.4L764.4 366.7L766.5 368.0L768.7 369.3L770.9 370.6L773.1 371.9L775.3 373.2L777.4 374.5L779.6 375.8L781.8 377.1L784.0 378.4L786.1 379.7L788.3 381.0L790.5 382.3L792.7 383.6L794.9 384.9L797.0 386.2L799.2 387.5L801.4 388.8L803.6 390.1L805.8 391.4L807.9 392.7L810.1 394.0L812.3 395.3L814.5 396.6L816.6 397.9L818.8 399.3L821.0 400.6L823.2 401.9L825.4 403.1L827.6 404.4L829.9 405.6L832.1 406.8L834.4 407.8L836.8 408.8L839.1 409.6L841.6 410.3L844.0 410.9L846.5 411.2L849.0 411.5L851.5 411.6L854.0 411.6L856.5 411.4L859.0 411.1L861.5 410.7L864.0 410.2L866.4 409.6L868.9 408.9L871.3 408.0L873.6 407.1L876.0 406.1L878.3 405.1L880.6 403.9L882.9 402.7L885.1 401.5L887.4 400.2L889.6 398.8L891.8 397.5L893.9 396.1L896.1 394.6L898.2 393.2L900.2 391.7L902.3 390.2L904.3 388.6L906.3 387.0L908.2 385.4L910.1 383.7L911.9 382.0L913.8 380.3L915.5 378.5L917.2 376.6L918.9 374.7L920.5 372.8L922.1 370.9L923.6 368.9L925.1 366.8L926.5 364.8L927.8 362.7L929.1 360.5L930.4 358.3L931.6 356.1L932.7 353.9L933.8 351.6L934.9 349.2L935.8 346.9L936.7 344.5L937.6 342.1L938.4 339.6L939.1 337.1L939.7 334.6L940.3 332.1L940.8 329.5L941.2 327.0L941.6 324.4L941.9 321.8L942.0 319.3L942.1 316.7L942.1 314.2L942.0 311.6L941.8 309.1L941.5 306.7L941.0 304.3L940.5 301.9L939.8 299.6L938.9 297.3L937.8 295.2L936.4 293.2L934.7 291.4M527.9 235.5L865.5 441.0M511.4 264.6L760.0 413.5M760.0 413.5L762.2 414.8L764.3 416.0L766.5 417.3L768.6 418.6L770.8 419.9L772.9 421.2L775.1 422.5L777.2 423.8L779.4 425.1L781.5 426.4L783.7 427.7L785.8 429.0L788.0 430.3L790.2 431.6L792.3 432.8L794.5 434.1L796.6 435.4L798.8 436.7L800.9 438.0L803.1 439.3L805.2 440.6L807.4 441.9L809.5 443.2L811.7 444.5L813.8 445.8L816.0 447.1L818.2 448.4L820.3 449.6L822.5 450.9L824.6 452.2L826.8 453.5L828.9 454.8L831.1 456.1L833.2 457.4L835.4 458.7L837.5 460.0L839.7 461.3L841.9 462.6L844.0 463.8L846.2 465.1L848.4 466.3L850.6 467.5L852.8 468.7L855.0 469.8L857.3 470.9L859.5 471.8L861.8 472.7L864.2 473.6L866.5 474.3L869.0 474.9L871.4 475.4L873.9 475.8L876.4 476.1L879.0 476.3L881.5 476.4L884.1 476.4L886.7 476.3L889.3 476.2L891.9 476.0L894.4 475.7L897.0 475.3L899.5 474.9L902.0 474.4L904.5 473.8L906.9 473.3L909.4 472.6L911.8 471.9L914.2 471.2L916.5 470.4L918.9 469.6L921.2 468.7L923.5 467.8L925.8 466.9L928.1 465.9L930.4 464.9L932.7 463.8L934.9 462.8L937.1 461.7L939.4 460.5L941.6 459.3L943.8 458.1L946.0 456.9L948.1 455.6L950.3 454.3L952.4 453.0L954.5 451.6L956.6 450.2L958.6 448.8L960.7 447.4L962.7 445.9L964.7 444.3L966.6 442.8L968.6 441.2L970.5 439.5L972.4 437.9L974.2 436.2L976.0 434.4L977.8 432.7L979.5 430.9L981.2 429.0L982.9 427.2L984.5 425.2L986.1 423.3L987.6 421.3L989.2 419.3L990.6 417.2L992.0 415.1L993.4 413.0L994.8 410.9L996.0 408.7L997.3 406.5L998.5 404.2L999.6 402.0L1000.8 399.7L1001.8 397.4L1002.8 395.0L1003.8 392.7L1004.7 390.3L1005.6 387.9L1006.4 385.5L1007.2 383.1L1007.9 380.6L1008.5 378.2L1009.2 375.7L1009.7 373.2L1010.2 370.8L1010.7 368.3L1011.1 365.8L1011.4 363.3L1011.7 360.8L1012.0 358.3L1012.2 355.8L1012.3 353.3L1012.3 350.7L1012.4 348.2L1012.3 345.7L1012.2 343.3L1012.0 340.8L1011.8 338.3L1011.5 335.8L1011.2 333.4L1010.8 330.9L1010.3 328.5L1009.8 326.1L1009.2 323.7L1008.5 321.3L1007.8 319.0L1007.0 316.6L1006.2 314.3L1005.3 312.0L1004.3 309.7L1003.2 307.5L1002.1 305.3L1001.0 303.1L999.7 300.9L998.4 298.8L997.0 296.7L995.5 294.6L994.0 292.6L992.5 290.6L990.8 288.7L989.1 286.8L987.4 284.9L985.6 283.1L983.7 281.4L981.8 279.7L979.8 278.0L977.8 276.4L975.8 274.9L973.7 273.4L971.6 272.0L969.4 270.7L967.2 269.4L965.0 268.3L962.7 267.1L960.4 266.1L958.1 265.1L955.7 264.3L953.4 263.5L951.0 262.8L948.5 262.1L946.1 261.6L943.6 261.2L941.2 260.8L938.7 260.5L936.2 260.3L933.7 260.2L931.2 260.2L928.7 260.2L926.2 260.3L923.7 260.5L921.1 260.8L918.6 261.1L916.1 261.4L913.6 261.9L911.1 262.3L908.6 262.9L906.2 263.5L903.7 264.1L901.3 264.8L898.8 265.5L896.4 266.3L894.1 267.1L891.7 267.9L889.4 268.8L887.0 269.7L884.7 270.7L882.4 271.7L880.2 272.7L877.9 273.7L875.7 274.8L873.4 275.9L871.2 277.0L869.0 278.2L866.8 279.3L864.6 280.5L862.4 281.8L860.3 283.0L858.1 284.3L856.0 285.5L853.8 286.8L851.7 288.1L849.6 289.4L847.4 290.8L845.3 292.1L843.2 293.5L841.1 294.8L839.0 296.2L836.9 297.5L834.7 298.9L832.6 300.3L830.5 301.7L828.4 303.0L826.3 304.4L824.1 305.8L822.0 307.2L819.9 308.5L817.7 309.9L815.6 311.2L813.4 312.6L811.3 313.9L809.1 315.2L806.9 316.5L804.7 317.8L802.5 319.1L800.3 320.3L798.1 321.6L795.8 322.6L793.5 323.5L791.2 323.9L788.8 324.0L786.3 323.5L783.9 322.4L782.3 320.7L782.0 318.6L782.9 316.2L784.3 314.0L785.8 311.9L787.5 310.1L789.3 308.4L791.2 306.9L793.2 305.6L795.3 304.3L797.4 303.1L799.7 302.1L801.9 301.1L804.2 300.1L806.6 299.1L808.9 298.2L811.3 297.2L813.6 296.3L816.0 295.2L818.3 294.1L820.6 293.0L822.8 291.8L825.1 290.6L827.3 289.3L829.6 288.0L831.8 286.7L834.0 285.4L836.2 284.0L838.4 282.7L840.6 281.3L842.7 280.0L844.9 278.6L847.1 277.3L849.3 276.0L851.5 274.7L853.6 273.5L855.8 272.2L858.0 271.0L860.2 269.9L862.5 268.8L864.7 267.7L866.9 266.8L869.2 265.8L871.5 265.0L873.8 264.2L876.1 263.5L878.4 262.9L880.8 262.3L883.2 261.9L885.6 261.5L888.0 261.3L890.5 261.2L893.0 261.1L895.5 261.2L898.1 261.4L900.7 261.8L903.3 262.3L906.0 262.9M865.5 441.0L868.0 441.6L870.5 442.1L873.0 442.5L875.6 442.8L878.1 443.1L880.6 443.2L883.1 443.3L885.6 443.3L888.2 443.3L890.7 443.1L893.2 442.9L895.7 442.6L898.2 442.3L900.6 441.9L903.1 441.4L905.5 440.8L908.0 440.2L910.4 439.5L912.8 438.7L915.1 437.9L917.5 437.0L919.8 436.0L922.1 435.0L924.4 434.0L926.6 432.8L928.9 431.6L931.0 430.4L933.2 429.1L935.3 427.7L937.4 426.3L939.4 424.8L941.4 423.3L943.4 421.7L945.3 420.1L947.2 418.5L949.0 416.7L950.8 415.0L952.5 413.2L954.2 411.3L955.9 409.4L957.4 407.5L959.0 405.5L960.4 403.5L961.9 401.4L963.2 399.3L964.6 397.2L965.8 395.0L967.0 392.8L968.2 390.6L969.3 388.4L970.4 386.1L971.3 383.7L972.3 381.4L973.2 379.0L974.0 376.6L974.8 374.2L975.5 371.8L976.1 369.3L976.7 366.9L977.3 364.4L977.8 361.8L978.2 359.3L978.6 356.8L978.9 354.2L979.1 351.7L979.3 349.1L979.4 346.5L979.4 344.0L979.4 341.4L979.3 338.9L979.1 336.4L978.8 333.9L978.4 331.4L977.9 328.9L977.3 326.5L976.6 324.1L975.8 321.8L974.9 319.4L973.9 317.2L972.7 315.0L971.4 312.8L970.1 310.7L968.6 308.7L967.0 306.7L965.3 304.9L963.5 303.1L961.7 301.4L959.7 299.8L957.7 298.4L955.6 297.0L953.5 295.7L951.3 294.6L949.0 293.6L946.7 292.8L944.3 292.1L941.9 291.5L939.5 291.1L937.0 290.8L934.6 290.7L932.0 290.6L929.5 290.7L927.0 290.9L924.4 291.2L921.9 291.5L919.4 292.0L916.8 292.5L914.3 293.2L911.8 293.9L909.3 294.6L906.9 295.4L904.5 296.3L902.1 297.1L899.7 298.1L897.4 299.1L895.1 300.1L892.8 301.1L890.6 302.2L888.4 303.3L886.2 304.5L884.0 305.6L881.8 306.9L879.7 308.1L877.6 309.3L875.5 310.6L873.4 311.9L871.3 313.2L869.2 314.6L867.1 315.9L865.0 317.3L863.0 318.7L860.9 320.0L858.9 321.4L856.8 322.8L854.7 324.3L852.7 325.7L850.6 327.1L848.5 328.5L846.4 329.9L844.3 331.3L842.2 332.7L840.1 334.1L838.0 335.5L835.8 336.9L833.6 338.2L831.4 339.6L829.2 340.9L827.0 342.2L824.7 343.5L822.4 344.8L820.1 346.1L817.8 347.3L815.4 348.4L813.1 349.5L810.7 350.6L808.3 351.5L805.9 352.4L803.5 353.2L801.0 353.9L798.6 354.5L796.2 354.9L793.8 355.2L791.4 355.4L789.0 355.5L786.6 355.4L784.2 355.1L781.9 354.7L779.5 354.1L777.2 353.3L774.9 352.3L772.7 351.2L770.5 349.9L768.4 348.4L766.4 346.9L764.4 345.2L762.6 343.4L760.8 341.5L759.2 339.5L757.7 337.4L756.4 335.3L755.2 333.0L754.1 330.7L753.2 328.4L752.5 326.0L752.0 323.6L751.7 321.2L751.5 318.7L751.6 316.3L751.8 313.9L752.2 311.4L752.7 309.0L753.4 306.6L754.2 304.2L755.2 301.9L756.3 299.7L757.5 297.5L758.9 295.3L760.3 293.3L761.9 291.3L763.6 289.4L765.3 287.6L767.2 286.0L769.1 284.4L771.1 282.9L773.2 281.5L775.3 280.1L777.5 278.8L779.7 277.6L781.9 276.4L784.2 275.3L786.5 274.1L788.8 273.0L791.1 271.9L793.4 270.8L795.7 269.6L798.0 268.5L800.3 267.3L802.5 266.1L804.7 264.8L806.9 263.5L809.1 262.3L811.3 261.0L813.5 259.6L815.6 258.3L817.8 257.0L819.9 255.7L822.0 254.4L824.2 253.0L826.3 251.7L828.4 250.4L830.6 249.2L832.7 247.9L834.9 246.7L837.1 245.4L839.2 244.2L841.4 243.1L843.7 242.0L845.9 240.9L848.1 239.8L850.4 238.8L852.7 237.9L855.0 237.0L857.4 236.1L859.8 235.3L862.2 234.6L864.6 233.9L867.1 233.3L869.5 232.7L872.0 232.2L874.5 231.8L877.0 231.4L879.5 231.1L882.0 230.8L884.6 230.6L887.1 230.5L889.6 230.5L892.2 230.5L894.7 230.6L897.2 230.7L899.7 230.9L902.2 231.2L904.7 231.6L907.2 232.1L909.7 232.6L912.1 233.2L914.6 233.8L917.0 234.6L919.4 235.4L921.7 236.3L924.1 237.2L926.4 238.2L928.6 239.3L930.9 240.5L933.1 241.7L935.2 243.0L937.4 244.3L939.5 245.7L941.5 247.2L943.5 248.7L945.5 250.3L947.4 251.9L949.2 253.6L951.0 255.3L952.8 257.2L954.5 259.0L956.1 260.9L957.7 262.9L959.2 264.9M865.5 441.0L868.1 440.7L870.7 440.4L873.2 440.0L875.8 439.6L878.3 439.1L880.8 438.5L883.3 437.9L885.7 437.3L888.2 436.5L890.6 435.7L893.0 434.9L895.4 434.0L897.7 433.1L900.1 432.1L902.4 431.0L904.6 429.9L906.9 428.8L909.1 427.6L911.3 426.3L913.5 425.0L915.7 423.7L917.8 422.3L919.9 420.9L921.9 419.4L923.9 417.9L925.9 416.4L927.9 414.8L929.8 413.1L931.7 411.4L933.5 409.7L935.4 408.0L937.1 406.2L938.9 404.3L940.6 402.5L942.3 400.6L943.9 398.6L945.5 396.7L947.0 394.7L948.5 392.6L950.0 390.6L951.4 388.5L952.8 386.3L954.1 384.2L955.4 382.0L956.7 379.8L957.9 377.6L959.0 375.3L960.2 373.0L961.2 370.7L962.3 368.4L963.2 366.0L964.2 363.7L965.1 361.3L965.9 358.9L966.8 356.5L967.5 354.1L968.2 351.6L968.9 349.1L969.6 346.7L970.1 344.2L970.7 341.7L971.2 339.2L971.6 336.7L972.0 334.2L972.4 331.6L972.7 329.1L973.0 326.6L973.2 324.0L973.4 321.5L973.5 318.9L973.6 316.4"/>
<path stroke-width="1.6" d="M673.5 200.0L673.7 202.4L673.8 204.9L673.8 207.5L673.8 210.1L673.7 212.8L673.5 215.5L673.1 218.1L672.6 220.7L672.0 223.2L671.1 225.6L670.1 227.9L668.9 230.1L667.5 232.2L665.9 234.2L664.3 236.1L662.5 237.9L660.6 239.7L658.6 241.4L656.6 243.0L654.6 244.7L652.5 246.3L650.4 247.9L648.3 249.4L646.2 251.0L644.2 252.7L642.3 254.3L640.4 256.0L638.7 257.8L637.1 259.7L635.7 261.7L634.4 263.8L633.4 266.0L632.6 268.3L632.0 270.8L631.5 273.4L631.3 276.1L631.1 278.8L631.0 281.4L630.9 284.1L630.7 286.6M197.1 362.5L199.4 363.4L201.8 364.4L204.2 365.3L206.5 366.2L209.0 367.1L211.4 368.0L213.8 368.8L216.3 369.6L218.8 370.4L221.2 371.1L223.7 371.8L226.2 372.4L228.7 372.9L231.3 373.4L233.8 373.8L236.3 374.1L238.8 374.3L241.4 374.4L243.9 374.4L246.4 374.4L249.0 374.3L251.5 374.1L254.0 373.9L256.6 373.6L259.1 373.3L261.7 372.9L264.2 372.5L266.7 372.1L269.3 371.7L271.8 371.3L274.4 370.8L276.9 370.4L279.5 370.0L282.0 369.6L284.6 369.2L287.1 368.9L289.6 368.5L292.2 368.3L294.7 368.1L297.3 367.9L299.8 367.8L302.4 367.7L304.9 367.7L307.4 367.7L310.0 367.7L312.5 367.9L315.0 368.0L317.5 368.2L320.0 368.5L322.6 368.8L325.1 369.1L327.6 369.5L330.1 370.0L332.6 370.5L335.0 371.0L337.5 371.6L340.0 372.2L342.4 372.9L344.9 373.6L347.3 374.3L349.8 375.1L352.2 376.0L354.6 376.8L357.0 377.8L359.4 378.7L361.8 379.7L364.1 380.8L366.5 381.9M406.3 616.8L409.1 616.7L411.8 616.7L414.4 616.8L417.1 617.0L419.6 617.3L422.2 617.8L424.7 618.3L427.1 618.9L429.6 619.6L432.0 620.4L434.3 621.2L436.7 622.2L439.0 623.2L441.3 624.2L443.5 625.4L445.7 626.6L448.0 627.8L450.1 629.1L452.3 630.4L454.5 631.8L456.6 633.2L458.8 634.7L460.9 636.1L463.0 637.6L465.1 639.1L467.2 640.7L469.3 642.2L471.4 643.7L473.5 645.3L475.6 646.8L477.7 648.4L479.8 649.9L481.9 651.4L484.0 652.9L486.2 654.3L488.3 655.8L490.5 657.2L492.6 658.6L494.8 659.9L497.0 661.2L499.2 662.5L501.5 663.7L503.7 664.8L506.0 666.0L508.3 667.1L510.6 668.1L512.9 669.1L515.3 670.0L517.7 670.9L520.1 671.7L522.5 672.5L524.9 673.2L527.4 673.8L529.9 674.4L532.4 674.9L535.0 675.4L537.5 675.8L540.1 676.1L542.7 676.4L545.2 676.6L547.8 676.8L550.4 677.0L553.0 677.1L555.6 677.2L558.2 677.2L560.8 677.2L563.4 677.2L565.9 677.2L568.5 677.1"/>
<path stroke-width="2.2" d="M574.4 450.1L575.4 452.4L576.5 454.6L577.6 456.9L578.7 459.2L579.9 461.5L581.2 463.7L582.5 466.0L583.9 468.2L585.3 470.4L586.8 472.6L588.4 474.7L590.0 476.8L591.7 478.8L593.4 480.7L595.2 482.6L597.0 484.4L598.9 486.1L600.9 487.7L602.9 489.3L605.0 490.7L607.2 492.0L609.4 493.2L611.6 494.4L613.9 495.4L616.3 496.4L618.6 497.4L621.0 498.3L623.5 499.2L625.9 500.0L628.4 500.9L630.8 501.7L633.3 502.6L635.7 503.5L638.1 504.4L640.6 505.3L643.0 506.3L645.4 507.3L647.7 508.3L650.0 509.4L652.3 510.5L654.6 511.7L656.8 513.0L659.0 514.3L661.1 515.7L663.1 517.1L665.1 518.6L667.1 520.2L668.9 521.9L670.7 523.7L672.5 525.5L674.1 527.4L675.7 529.5L677.1 531.6L678.5 533.8L679.8 536.1L681.0 538.4L682.2 540.8L683.2 543.2L684.1 545.6L685.0 548.1"/>
</g>
<g font-family="'Liberation Sans', sans-serif" font-weight="bold" font-size="39" fill="#000" opacity="0.999">
<text transform="translate(645.4 187.5) scale(0.866 1)">200</text>
<text transform="translate(124.3 372.9) scale(0.866 1)">310</text>
<text transform="translate(664.2 580.9) scale(0.866 1)">300</text>
<text transform="translate(578.3 688.9) scale(0.866 1)">100</text>
</g></svg></body></html>
